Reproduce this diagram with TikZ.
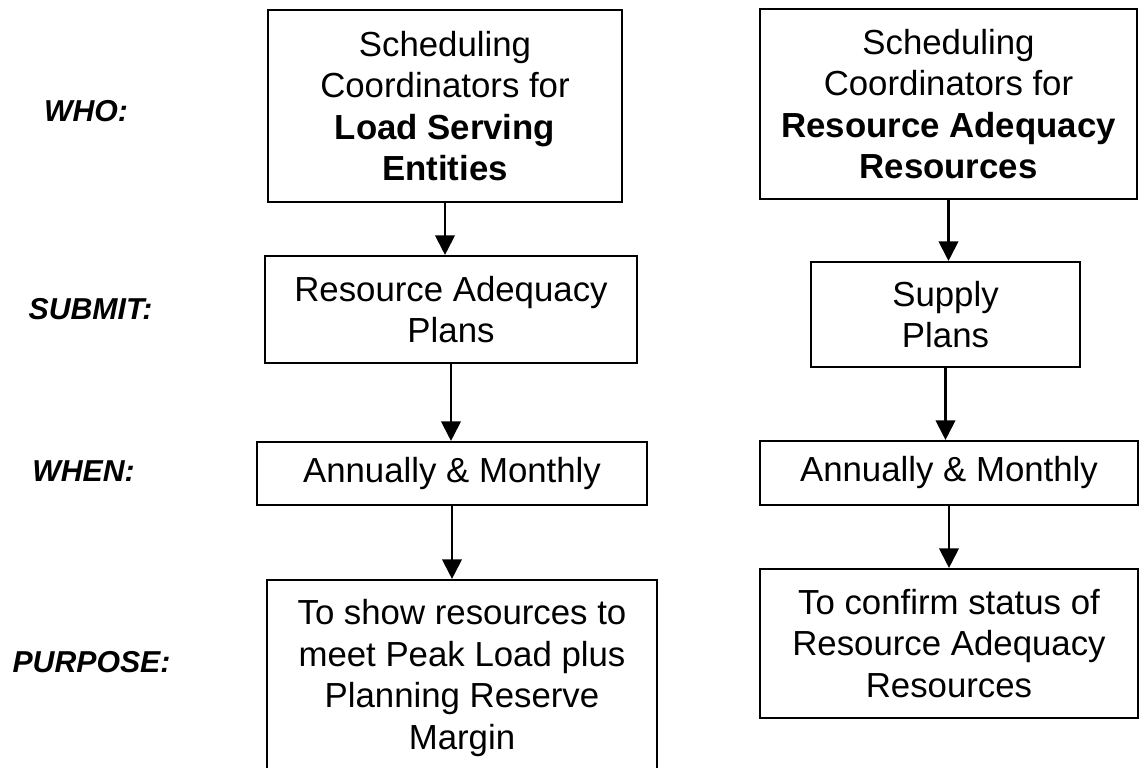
\documentclass[tikz,border=0pt]{standalone}
\usepackage{fontspec}
\setmainfont{Liberation Sans}
\usetikzlibrary{arrows.meta}

\begin{document}
\begin{tikzpicture}
        \tikzstyle Plan Box=[draw, line width=0.6pt, align=center, inner sep=0pt, font=\fontsize{9.9}{11.8}\selectfont]
        \tikzstyle Row Label=[font=\fontsize{8.6}{10}\selectfont\bfseries\itshape]
        \tikzstyle Flow Line=[line width=0.6pt, -{Triangle[width=5.6pt, length=5.6pt]}]

        \useasboundingbox (0, 0) rectangle (11.39, -7.68);

        % row labels
        \node[Row Label] (who) at (0.86, -1.11) {WHO:};
        \node[Row Label] (submit) at (0.905, -3.09) {SUBMIT:};
        \node[Row Label] (when) at (0.835, -4.71) {WHEN:};
        \node[Row Label] (purpose) at (0.915, -6.62) {PURPOSE:};

        % load serving entities
        \node[Plan Box, minimum width=3.54cm, minimum height=1.92cm] (lseWho) at (4.45, -1.06)
            {Scheduling\\Coordinators for\\\textbf{Load Serving}\\\textbf{Entities}};
        \node[Plan Box, minimum width=3.72cm, minimum height=1.07cm] (lseSubmit) at (4.51, -3.095)
            {Resource Adequacy\\Plans};
        \node[Plan Box, minimum width=3.90cm, minimum height=0.63cm] (lseWhen) at (4.52, -4.735)
            {Annually \& Monthly};
        \node[Plan Box, minimum width=3.90cm, minimum height=1.96cm] (lsePurpose) at (4.62, -6.78)
            {To show resources to\\meet Peak Load plus\\Planning Reserve\\Margin};

        % resource adequacy resources
        \node[Plan Box, minimum width=3.77cm, minimum height=1.90cm] (rarWho) at (9.485, -1.04)
            {Scheduling\\Coordinators for\\\textbf{Resource Adequacy}\\\textbf{Resources}};
        \node[Plan Box, minimum width=2.69cm, minimum height=1.05cm] (rarSubmit) at (9.455, -3.145)
            {Supply\\Plans};
        \node[Plan Box, minimum width=3.78cm, minimum height=0.64cm] (rarWhen) at (9.49, -4.73)
            {Annually \& Monthly};
        \node[Plan Box, minimum width=3.78cm, minimum height=1.49cm] (rarPurpose) at (9.49, -6.435)
            {To confirm status of\\Resource Adequacy\\Resources};

        \draw[Flow Line] (lseWho.south) -- (lseWho.south |- lseSubmit.north);
        \draw[Flow Line] (lseSubmit.south) -- (lseSubmit.south |- lseWhen.north);
        \draw[Flow Line] (lseWhen.south) -- (lseWhen.south |- lsePurpose.north);

        \draw[Flow Line] (rarWho.south) -- (rarWho.south |- rarSubmit.north);
        \draw[Flow Line] (rarSubmit.south) -- (rarSubmit.south |- rarWhen.north);
        \draw[Flow Line] (rarWhen.south) -- (rarWhen.south |- rarPurpose.north);
    \end{tikzpicture}
\end{document}
